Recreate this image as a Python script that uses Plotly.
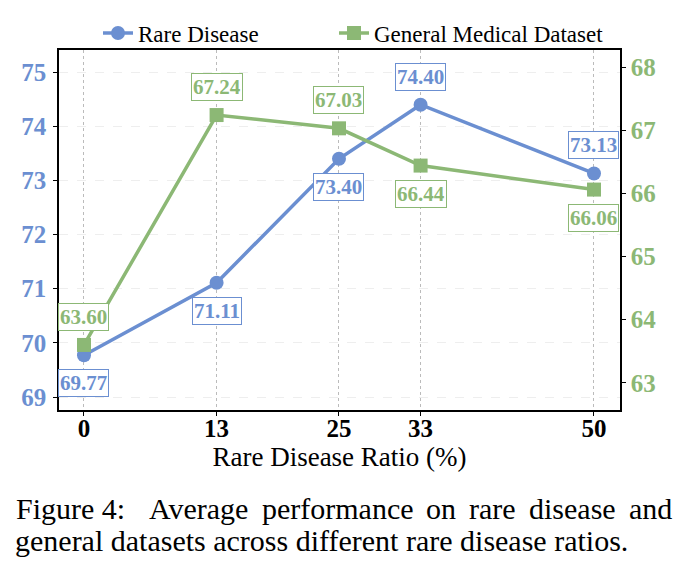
import plotly.graph_objects as go

ratios = [0, 13, 25, 33, 50]
rare = [69.77, 71.11, 73.40, 74.40, 73.13]
general = [63.60, 67.24, 67.03, 66.44, 66.06]
rare_label_dir = [1, 1, 1, -1, -1]      # 1 = below, -1 = above
gen_label_dir = [-1, -1, -1, 1, 1]
left_ticks = [69, 70, 71, 72, 73, 74, 75]
right_ticks = [63, 64, 65, 66, 67, 68]
caption_line1 = ["Figure 4:", "Average", "performance", "on", "rare", "disease", "and"]
caption_line2 = "general datasets across different rare disease ratios."

BLUE = "#6b8fd1"
GREEN = "#8cb875"
FONT = "Liberation Serif"

# plot area in pixels (for placing caption / legend)
L, R, T, B = 59, 620, 50, 410
def px_x(p):
    return (p - L) / (R - L)
def px_y(p):
    return (B - p) / (B - T)

fig = go.Figure()
fig.add_trace(go.Scatter(
    x=ratios, y=general, name="General Medical Dataset", yaxis="y2",
    mode="lines+markers", line=dict(color=GREEN, width=3.5),
    marker=dict(symbol="square", size=14, color=GREEN), legend="legend2"))
fig.add_trace(go.Scatter(
    x=ratios, y=rare, name="Rare Disease", yaxis="y",
    mode="lines+markers", line=dict(color=BLUE, width=3.5),
    marker=dict(symbol="circle", size=14, color=BLUE), legend="legend"))

for xv, yv, d in zip(ratios, rare, rare_label_dir):
    fig.add_annotation(x=xv, y=yv, xref="x", yref="y", text=f"<b>{yv:.2f}</b>",
                       showarrow=False, yshift=-28 * d,
                       font=dict(family=FONT, size=21, color=BLUE),
                       bgcolor="white", bordercolor=BLUE, borderwidth=1, borderpad=1)
for xv, yv, d in zip(ratios, general, gen_label_dir):
    fig.add_annotation(x=xv, y=yv, xref="x", yref="y2", text=f"<b>{yv:.2f}</b>",
                       showarrow=False, yshift=-28 * d,
                       font=dict(family=FONT, size=21, color=GREEN),
                       bgcolor="white", bordercolor=GREEN, borderwidth=1, borderpad=1)

# caption (line 1 justified across the width, line 2 natural)
word_px = [14, 147, 260, 424, 467, 527, 627]
for w, p in zip(caption_line1, word_px):
    fig.add_annotation(x=px_x(p), y=px_y(509), xref="paper", yref="paper",
                       xanchor="left", yanchor="middle", showarrow=False, text=w,
                       font=dict(family=FONT, size=30, color="black"))
fig.add_annotation(x=px_x(13), y=px_y(540), xref="paper", yref="paper",
                   xanchor="left", yanchor="middle", showarrow=False, text=caption_line2,
                   font=dict(family=FONT, size=30, color="black"))

fig.update_layout(
    width=686, height=570,
    margin=dict(l=L, r=686 - R, t=T, b=570 - B),
    paper_bgcolor="white", plot_bgcolor="white",
    font=dict(family=FONT, color="black"),
    showlegend=True,
    legend=dict(orientation="h", x=px_x(98), xanchor="left", y=px_y(33), yanchor="middle",
                font=dict(family=FONT, size=23), bgcolor="rgba(0,0,0,0)"),
    legend2=dict(orientation="h", x=px_x(334), xanchor="left", y=px_y(33), yanchor="middle",
                 font=dict(family=FONT, size=23), bgcolor="rgba(0,0,0,0)"),
    xaxis=dict(
        range=[-2.45, 52.55], tickvals=ratios, ticktext=[str(r) for r in ratios],
        tickfont=dict(family=FONT, size=25, color="black", weight="bold"),
        ticklabelstandoff=-9,
        title=dict(text="Rare Disease Ratio (%)", font=dict(family=FONT, size=27), standoff=0),
        showgrid=True, gridcolor="#bbbbbb", griddash="dot", gridwidth=1,
        showline=True, linecolor="black", linewidth=1.5, mirror=True,
        ticks="outside", ticklen=4, tickcolor="black", zeroline=False),
    yaxis=dict(
        range=[68.76, 75.41], tickvals=left_ticks,
        tickfont=dict(family=FONT, size=25, color=BLUE, weight="bold"),
        ticklabelstandoff=2,
        showgrid=True, gridcolor="#eeeeee", griddash="dash", gridwidth=1,
        showline=True, linecolor="black", linewidth=1.5,
        ticks="outside", ticklen=4, tickcolor="black", zeroline=False),
    yaxis2=dict(
        range=[62.57, 68.27], tickvals=right_ticks, overlaying="y", side="right",
        tickfont=dict(family=FONT, size=25, color=GREEN, weight="bold"),
        showgrid=False, showline=True, linecolor="black", linewidth=1.5,
        ticks="outside", ticklen=4, tickcolor="black", zeroline=False),
)

fig.write_html("out.html")
